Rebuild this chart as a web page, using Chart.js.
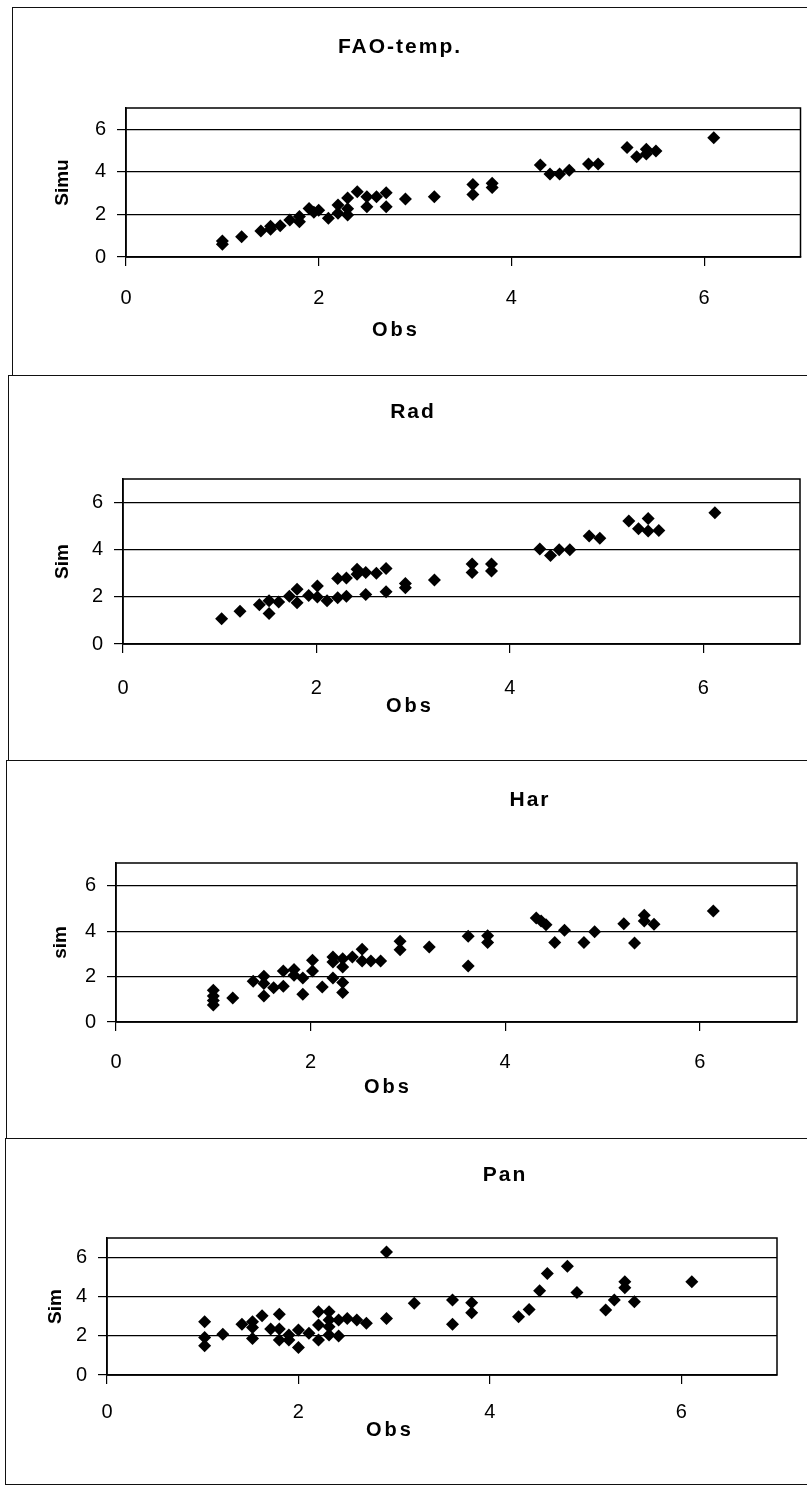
<!DOCTYPE html>
<html>
<head>
<meta charset="utf-8">
<script src="https://cdn.jsdelivr.net/npm/chart.js@4.4.0/dist/chart.umd.min.js"></script>
<style>
  html, body { margin: 0; padding: 0; background: #fff; width: 807px; height: 1486px; overflow: hidden; }
  .frame { position: absolute; border: 1.5px solid #111; box-sizing: border-box; }
  canvas { position: absolute; left: 0; }
</style>
</head>
<body>
<div class="frame" style="left:12px;top:7px;width:830px;height:369px"></div>
<div class="frame" style="left:8px;top:375px;width:830px;height:386px"></div>
<div class="frame" style="left:6px;top:760px;width:830px;height:379px"></div>
<div class="frame" style="left:5px;top:1138px;width:830px;height:347px"></div>
<canvas id="c1" width="807" height="368" style="top:7px"></canvas>
<canvas id="c2" width="807" height="385" style="top:375px"></canvas>
<canvas id="c3" width="807" height="378" style="top:760px"></canvas>
<canvas id="c4" width="807" height="346" style="top:1138px"></canvas>
<script>
// tick values shared by all four panels
var xTicks = [0, 2, 4, 6];
var yTicks = [0, 2, 4, 6];

var panelTitles = ['FAO-temp.', 'Rad', 'Har', 'Pan'];
var yTitles = ['Simu', 'Sim', 'sim', 'Sim'];
var xTitle = 'Obs';

// FAO-temp.
var faoObs = [1.0, 1.0, 1.2, 1.4, 1.5, 1.5, 1.6, 1.7, 1.8, 1.8, 1.9, 1.95, 2.0, 2.1, 2.2, 2.2, 2.3, 2.3, 2.3, 2.4, 2.5, 2.5,
  2.6, 2.7, 2.7, 2.9, 3.2, 3.6, 3.6, 3.8, 3.8, 4.3, 4.4, 4.5, 4.6, 4.8, 4.9, 5.2, 5.3, 5.4, 5.4, 5.5, 6.1];
var faoSim = [0.6, 0.75, 0.95, 1.22, 1.3, 1.45, 1.47, 1.74, 1.66, 1.9, 2.28, 2.1, 2.2, 1.82, 2.44, 2.05, 2.77, 2.27, 1.97, 3.07, 2.83, 2.36,
  2.83, 3.02, 2.36, 2.72, 2.83, 3.41, 2.94, 3.46, 3.27, 4.32, 3.9, 3.9, 4.08, 4.37, 4.37, 5.15, 4.71, 5.06, 4.84, 4.98, 5.6];

// Rad
var radObs = [1.02, 1.21, 1.41, 1.51, 1.51, 1.61, 1.72, 1.8, 1.8, 1.92, 2.01, 2.01, 2.11, 2.22, 2.22, 2.31, 2.31, 2.42, 2.42, 2.51, 2.51,
  2.62, 2.72, 2.72, 2.92, 2.92, 3.22, 3.61, 3.61, 3.81, 3.81, 4.31, 4.42, 4.51, 4.62, 4.82, 4.93, 5.23, 5.33, 5.43, 5.43, 5.54, 6.12];
var radSim = [1.07, 1.39, 1.67, 1.84, 1.29, 1.78, 2.03, 2.32, 1.75, 2.06, 2.46, 1.99, 1.84, 2.78, 1.96, 2.8, 2.03, 3.17, 2.96, 3.03, 2.1,
  3.0, 3.2, 2.22, 2.57, 2.39, 2.72, 3.39, 3.03, 3.39, 3.1, 4.03, 3.75, 4.0, 4.0, 4.58, 4.49, 5.22, 4.89, 5.32, 4.79, 4.82, 5.57];

// Har
var harObs = [1.0, 1.0, 1.0, 1.0, 1.2, 1.41, 1.52, 1.52, 1.52, 1.62, 1.72, 1.72, 1.83, 1.83, 1.92, 1.92, 2.02, 2.02, 2.12, 2.23, 2.23,
  2.23, 2.33, 2.33, 2.33, 2.33, 2.43, 2.53, 2.53, 2.62, 2.72, 2.92, 2.92, 3.22, 3.62, 3.62, 3.82, 3.82, 4.32, 4.37, 4.42, 4.51,
  4.61, 4.81, 4.92, 5.22, 5.33, 5.43, 5.43, 5.53, 6.14];
var harSim = [1.4, 1.15, 0.95, 0.75, 1.06, 1.79, 2.01, 1.69, 1.15, 1.51, 2.25, 1.57, 2.31, 2.06, 1.94, 1.22, 2.72, 2.25, 1.54, 2.86, 2.64,
  1.94, 2.79, 2.42, 1.74, 1.3, 2.86, 3.2, 2.69, 2.69, 2.69, 3.55, 3.18, 3.3, 3.78, 2.46, 3.8, 3.5, 4.58, 4.45, 4.28, 3.5,
  4.04, 3.5, 3.97, 4.33, 3.48, 4.7, 4.45, 4.3, 4.89];

// Pan
var panObs = [1.02, 1.02, 1.02, 1.21, 1.41, 1.52, 1.52, 1.52, 1.62, 1.71, 1.8, 1.8, 1.8, 1.9, 1.9, 2.0, 2.0, 2.11, 2.21, 2.21, 2.21,
  2.32, 2.32, 2.32, 2.32, 2.42, 2.42, 2.51, 2.61, 2.71, 2.92, 2.92, 3.21, 3.61, 3.61, 3.81, 3.81, 4.3, 4.41, 4.52, 4.6, 4.81,
  4.91, 5.21, 5.3, 5.41, 5.41, 5.51, 6.11];
var panSim = [2.72, 1.92, 1.5, 2.08, 2.59, 2.72, 2.43, 1.87, 3.03, 2.35, 3.1, 2.35, 1.79, 2.04, 1.79, 2.3, 1.41, 2.13, 3.23, 2.55, 1.79,
  3.23, 2.81, 2.47, 2.04, 2.81, 1.99, 2.89, 2.81, 2.64, 6.29, 2.89, 3.66, 3.83, 2.59, 3.69, 3.18, 2.98, 3.35, 4.3, 5.19, 5.56,
  4.22, 3.32, 3.83, 4.76, 4.46, 3.74, 4.76];

var FONT = "'Liberation Sans', Arial, sans-serif";

// plot box border and free-placed labels (panel title, x axis title)
var panelDecor = {
  id: 'panelDecor',
  beforeDatasetsDraw: function(chart) {
    var a = chart.chartArea, ctx = chart.ctx;
    ctx.save();
    ctx.strokeStyle = '#000';
    ctx.lineWidth = 1.5;
    ctx.strokeRect(a.left, a.top, a.right - a.left, a.bottom - a.top);
    ctx.restore();
  },
  afterDraw: function(chart, args, opts) {
    var ctx = chart.ctx;
    ctx.save();
    ctx.fillStyle = '#000';
    ctx.textAlign = 'center';
    ctx.textBaseline = 'middle';
    opts.items.forEach(function(it) {
      ctx.font = it.font;
      ctx.letterSpacing = it.spacing;
      ctx.fillText(it.text, it.x, it.y);
    });
    ctx.restore();
  }
};

var layouts = [
  { id: 'c1', top: 7, h: 368, l: 126, t: 108, r: 804, b: 257, title: [400, 47], obs: [396, 330], yPad: 51, xPad: 20 },
  { id: 'c2', top: 375, h: 385, l: 123, t: 479, r: 800, b: 644, title: [413, 412], obs: [410, 706], yPad: 51, xPad: 23 },
  { id: 'c3', top: 760, h: 378, l: 116, t: 863, r: 797, b: 1022, title: [530, 800], obs: [388, 1087], yPad: 49, xPad: 19 },
  { id: 'c4', top: 1138, h: 346, l: 107, t: 1238, r: 777, b: 1375, title: [505, 1175], obs: [390, 1430], yPad: 44, xPad: 16 }
];

function makePanel(p, obs, sim, title, yTitle) {
  var pts = obs.map(function(x, i) { return { x: x, y: sim[i] }; });
  var bottom = p.b - p.top;
  new Chart(document.getElementById(p.id), {
    type: 'scatter',
    data: {
      datasets: [{
        data: pts,
        pointStyle: 'rectRot',
        pointRadius: 6.5,
        backgroundColor: '#000',
        borderColor: '#000',
        borderWidth: 0
      }]
    },
    options: {
      responsive: false,
      animation: false,
      devicePixelRatio: 1,
      layout: { padding: { left: 0, top: p.t - p.top, right: 807 - p.r, bottom: 0 } },
      plugins: {
        legend: { display: false },
        tooltip: { enabled: false },
        panelDecor: {
          items: [
            { text: title, x: p.title[0], y: p.title[1] - p.top, font: 'bold 21px ' + FONT, spacing: '2px' },
            { text: xTitle, x: p.obs[0], y: p.obs[1] - p.top, font: 'bold 20px ' + FONT, spacing: '3px' }
          ]
        }
      },
      scales: {
        x: {
          type: 'linear',
          min: 0,
          max: 7,
          afterBuildTicks: function(s) { s.ticks = xTicks.map(function(v) { return { value: v }; }); },
          afterFit: function(s) { s.height = p.h - bottom; },
          grid: { drawOnChartArea: false, color: '#000', tickLength: 9, lineWidth: 1.2 },
          border: { color: '#000', width: 1.5 },
          ticks: { color: '#000', font: { family: FONT, size: 20 }, padding: p.xPad, maxRotation: 0 }
        },
        y: {
          min: 0,
          max: 7,
          afterBuildTicks: function(s) { s.ticks = yTicks.map(function(v) { return { value: v }; }); },
          afterFit: function(s) { s.width = p.l; },
          grid: { color: '#000', tickLength: 9, lineWidth: 1.2 },
          border: { color: '#000', width: 1.5 },
          ticks: { color: '#000', font: { family: FONT, size: 20 }, padding: 11 },
          title: {
            display: true,
            text: yTitle,
            color: '#000',
            font: { family: FONT, size: 19, weight: 'bold' },
            padding: { top: p.yPad, bottom: 0 }
          }
        }
      }
    },
    plugins: [panelDecor]
  });
}

makePanel(layouts[0], faoObs, faoSim, panelTitles[0], yTitles[0]);
makePanel(layouts[1], radObs, radSim, panelTitles[1], yTitles[1]);
makePanel(layouts[2], harObs, harSim, panelTitles[2], yTitles[2]);
makePanel(layouts[3], panObs, panSim, panelTitles[3], yTitles[3]);
</script>
</body>
</html>
